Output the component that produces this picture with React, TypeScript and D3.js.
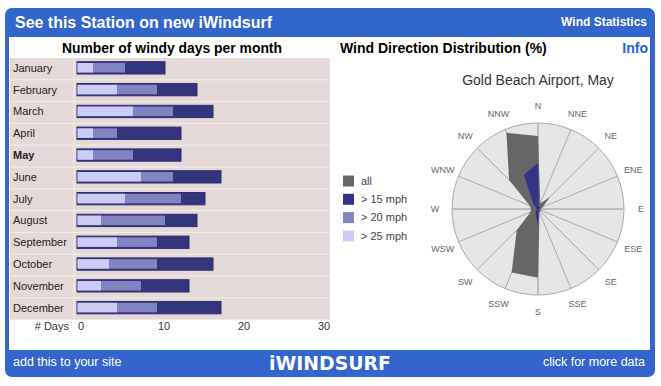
import * as d3 from 'd3';

const months = ['January', 'February', 'March', 'April', 'May', 'June', 'July', 'August', 'September', 'October', 'November', 'December'];
// days per month with wind above each threshold
const days15 = [11, 15, 17, 13, 13, 18, 16, 15, 14, 17, 14, 18];
const days20 = [6, 10, 12, 5, 7, 12, 13, 11, 10, 10, 8, 10];
const days25 = [2, 5, 7, 2, 2, 8, 6, 3, 5, 4, 3, 5];
const dayTicks = [0, 10, 20, 30];

const directions = ['N', 'NNE', 'NE', 'ENE', 'E', 'ESE', 'SE', 'SSE', 'S', 'SSW', 'SW', 'WSW', 'W', 'WNW', 'NW', 'NNW'];
// percent of time from each direction (May)
const pctAll = [17.0, 1.4, 4.0, 1.2, 0.7, 0.7, 0.7, 0.9, 16.0, 16.0, 7.0, 1.9, 1.6, 2.1, 9.5, 19.2];
const pct15 = [10.7, 0.5, 0.7, 0.3, 0.2, 0.2, 0.3, 0.4, 3.7, 1.5, 0.6, 0.3, 0.3, 0.4, 1.4, 8.6];
const pct20 = [0, 0, 0, 0, 0, 0, 0, 0, 0, 0, 0, 0, 0, 0, 0, 0];
const pct25 = [0, 0, 0, 0, 0, 0, 0, 0, 0, 0, 0, 0, 0, 0, 0, 0];

const legendItems = ['all', '> 15 mph', '> 20 mph', '> 25 mph'];
const legendColors = ['#666666', '#33338a', '#8383c4', '#ccccf7'];

const FONT = 'Arial, "Liberation Sans", sans-serif';
const BLUE = '#3366cc';

export default function App() {
  // bar chart scales
  const x = d3.scaleLinear().domain([0, 30]).range([77, 317]);
  const y = d3.scaleBand().domain(months).range([58, 319.6]);
  const rowH = y.bandwidth();

  // wind rose
  const cx = 538, cy = 209, R = 86;
  const r = d3.scaleLinear().domain([0, 20]).range([0, R]);
  const ang = (i: number) => (i * 2 * Math.PI) / directions.length;
  const radial = d3.lineRadial<number>()
    .angle((_, i) => ang(i))
    .radius(d => r(d))
    .curve(d3.curveLinearClosed);

  const series = [pctAll, pct15, pct20, pct25];

  return (
    <svg width={661} height={386} style={{ position: 'absolute', left: 0, top: 0 }} fontFamily={FONT}>
      <rect width={661} height={386} fill="#fff" />
      {/* frame */}
      <rect x={5} y={8} width={650} height={369} rx={7} fill={BLUE} />
      <rect x={9} y={37} width={641} height={313} fill="#fff" />
      <text x={15} y={28} fill="#fff" fontSize={17} fontWeight="bold" textLength={257} lengthAdjust="spacingAndGlyphs">See this Station on new iWindsurf</text>
      <text x={647} y={26} fill="#fff" fontSize={12} fontWeight="bold" textAnchor="end">Wind Statistics</text>

      {/* left: windy days */}
      <text x={172} y={53} fontSize={14} fontWeight="bold" fill="#000" textAnchor="middle" textLength={220} lengthAdjust="spacingAndGlyphs">Number of windy days per month</text>
      <rect x={10} y={58} width={320} height={261.6} fill="#e4d9d8" />
      {months.map((m, i) => (
        <g key={m}>
          {i > 0 && <line x1={10} x2={330} y1={y(m)!} y2={y(m)!} stroke="#f3eeee" strokeWidth={1} />}
          <text x={13} y={y(m)! + rowH / 2 - 1} dy="0.35em" fontSize={11} fill="#222" fontWeight={m === 'May' ? 'bold' : 'normal'}>{m}</text>
          <rect x={x(0)} y={y(m)! + 3.7} width={x(days15[i]) - x(0)} height={12.3} fill="#35357e" stroke="#2e2e66" strokeWidth={1} />
          <rect x={x(0) + 0.5} y={y(m)! + 5} width={x(days20[i]) - x(0) - 0.5} height={9.5} fill="#8383c4" />
          <rect x={x(0) + 0.5} y={y(m)! + 5} width={x(days25[i]) - x(0) - 0.5} height={9.5} fill="#ccccf7" />
        </g>
      ))}
      <line x1={74} x2={74} y1={58} y2={319.6} stroke="#f3eeee" strokeWidth={1} />
      <text x={69} y={330} fontSize={11} fill="#333" textAnchor="end"># Days</text>
      {dayTicks.map(t => (
        <text key={t} x={x(t) + 1} y={330} fontSize={11} fill="#333">{t}</text>
      ))}

      {/* right: wind direction */}
      <text x={340} y={53} fontSize={14} fontWeight="bold" fill="#000">Wind Direction Distribution (%)</text>
      <text x={648} y={53} fontSize={14} fontWeight="bold" fill="#2266cc" textAnchor="end">Info</text>
      <text x={538} y={85} fontSize={14} fill="#333" textAnchor="middle">Gold Beach Airport, May</text>

      {legendItems.map((l, i) => (
        <g key={l} transform={`translate(343,${175.5 + i * 18.3})`}>
          <rect width={11} height={11} fill={legendColors[i]} />
          <text x={18} y={5.5} dy="0.35em" fontSize={11} fill="#444">{l}</text>
        </g>
      ))}

      <g transform={`translate(${cx},${cy})`}>
        <circle r={R} fill="#e6e6e6" stroke="#a8a8a8" strokeWidth={1} />
        {directions.map((d, i) => {
          const a = ang(i);
          const axis = i % 4 === 0;
          return (
            <line key={d} x1={0} y1={0} x2={R * Math.sin(a)} y2={-R * Math.cos(a)}
              stroke={axis ? '#bdbdbd' : '#9a9a9a'} strokeWidth={axis ? 2 : 0.8} />
          );
        })}
        {series.map((s, k) => (
          <path key={k} d={radial(s) ?? ''} fill={legendColors[k]} />
        ))}
        {directions.map((d, i) => {
          const a = ang(i);
          return (
            <text key={d} x={103 * Math.sin(a)} y={-103 * Math.cos(a)} dy="0.35em" fontSize={9} fill="#666" textAnchor="middle">{d}</text>
          );
        })}
      </g>

      {/* footer */}
      <text x={13} y={366} fontSize={12.5} fill="#fff">add this to your site</text>
      <text x={330} y={370} fontSize={19} fontWeight="900" fill="#fff" textAnchor="middle" fontFamily='"DejaVu Sans", sans-serif' textLength={122} lengthAdjust="spacingAndGlyphs">iWINDSURF</text>
      <text x={645} y={366} fontSize={12.5} fill="#fff" textAnchor="end">click for more data</text>
    </svg>
  );
}
